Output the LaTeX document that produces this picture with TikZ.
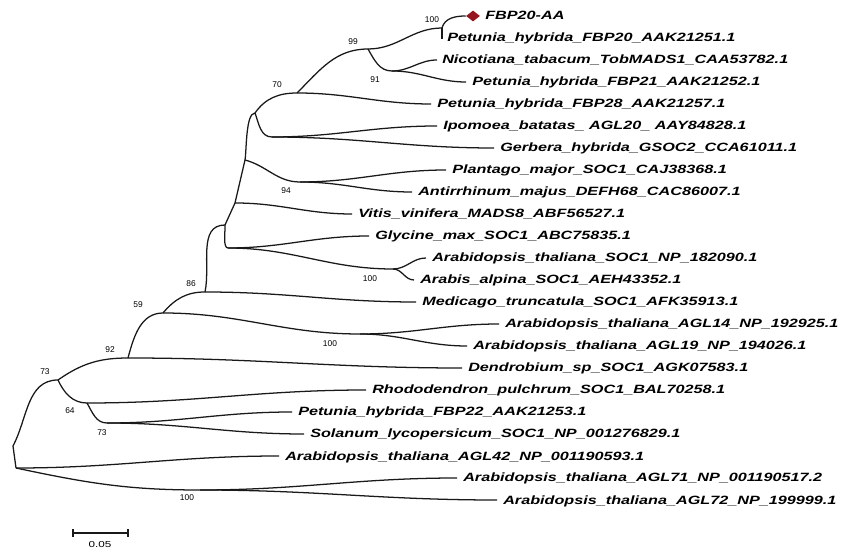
\documentclass[tikz,border=0pt]{standalone}
\usepackage{fontspec}
\setmainfont{Liberation Sans}
\newfontfamily\leaffont[FakeStretch=1.35]{Liberation Sans}
\usetikzlibrary{shapes.geometric}
\definecolor{dred}{RGB}{150,20,30}
\begin{document}
\begin{tikzpicture}[x=0.75pt,y=0.75pt,
  br/.style={line width=0.95pt, draw=black!90},
  hz/.style={out=0,in=180},
  leaf/.style={anchor=base west, inner sep=0pt, font=\leaffont\bfseries\itshape\fontsize{9}{10}\selectfont},
  boot/.style={inner sep=0pt, font=\fontsize{6.3}{7}\selectfont},
]
\useasboundingbox (0,0) rectangle (842,-548);
\fill[white] (0,0) rectangle (842,-548);

% internal nodes
\coordinate (Rb) at (16,-468);
\coordinate (Rt) at (13,-446);
\coordinate (N73a) at (58,-380);
\coordinate (N92) at (128,-358);
\coordinate (N59) at (163,-313);
\coordinate (N86) at (205,-292);
\coordinate (Na) at (225,-225);
\coordinate (Nb) at (235,-203);
\coordinate (Nc) at (245,-160);
\coordinate (Nd) at (255,-113);
\coordinate (N70) at (297,-93);
\coordinate (N99) at (368,-49);
\coordinate (N100a) at (442,-28);
\coordinate (N91) at (392,-71);
\coordinate (Nipo) at (272,-137);
\coordinate (N94) at (300,-182);
\coordinate (Ngly) at (228,-248);
\coordinate (N100b) at (393,-269);
\coordinate (N100c) at (360,-334);
\coordinate (N64) at (87,-403);
\coordinate (N73b) at (107,-423);
\coordinate (N100d) at (200,-490);

% leaf ends
\node[diamond, fill=dred, inner sep=0pt, minimum width=10.5pt, minimum height=8.25pt] (dia) at (473,-16) {};
\coordinate (e2) at (442,-39);
\coordinate (e3) at (437,-60);
\coordinate (e4) at (466,-82);
\coordinate (e5) at (431,-104);
\coordinate (e6) at (437,-126);
\coordinate (e7) at (494,-148);
\coordinate (e8) at (446,-170);
\coordinate (e9) at (412,-192);
\coordinate (e10) at (352,-214);
\coordinate (e11) at (369,-236);
\coordinate (e12) at (426,-258);
\coordinate (e13) at (414,-280);
\coordinate (e14) at (416,-302);
\coordinate (e15) at (499,-324);
\coordinate (e16) at (467,-346);
\coordinate (e17) at (462,-368);
\coordinate (e18) at (366,-390);
\coordinate (e19) at (292,-412);
\coordinate (e20) at (304,-434);
\coordinate (e21) at (279,-456);
\coordinate (e22) at (457,-478);
\coordinate (e23) at (497,-500);

% leaf labels
\node[leaf] (t1) at (485,-20) {FBP20-AA};
\node[leaf] (t2) at (447,-42) {Petunia\_hybrida\_FBP20\_AAK21251.1};
\node[leaf] (t3) at (442,-64) {Nicotiana\_tabacum\_TobMADS1\_CAA53782.1};
\node[leaf] (t4) at (472,-86) {Petunia\_hybrida\_FBP21\_AAK21252.1};
\node[leaf] (t5) at (437,-108) {Petunia\_hybrida\_FBP28\_AAK21257.1};
\node[leaf] (t6) at (443,-130) {Ipomoea\_batatas\_ AGL20\_ AAY84828.1};
\node[leaf] (t7) at (500,-152) {Gerbera\_hybrida\_GSOC2\_CCA61011.1};
\node[leaf] (t8) at (452,-174) {Plantago\_major\_SOC1\_CAJ38368.1};
\node[leaf] (t9) at (418,-196) {Antirrhinum\_majus\_DEFH68\_CAC86007.1};
\node[leaf] (t10) at (358,-218) {Vitis\_vinifera\_MADS8\_ABF56527.1};
\node[leaf] (t11) at (375,-240) {Glycine\_max\_SOC1\_ABC75835.1};
\node[leaf] (t12) at (432,-262) {Arabidopsis\_thaliana\_SOC1\_NP\_182090.1};
\node[leaf] (t13) at (420,-284) {Arabis\_alpina\_SOC1\_AEH43352.1};
\node[leaf] (t14) at (422,-306) {Medicago\_truncatula\_SOC1\_AFK35913.1};
\node[leaf] (t15) at (505,-328) {Arabidopsis\_thaliana\_AGL14\_NP\_192925.1};
\node[leaf] (t16) at (473,-350) {Arabidopsis\_thaliana\_AGL19\_NP\_194026.1};
\node[leaf] (t17) at (468,-372) {Dendrobium\_sp\_SOC1\_AGK07583.1};
\node[leaf] (t18) at (372,-394) {Rhododendron\_pulchrum\_SOC1\_BAL70258.1};
\node[leaf] (t19) at (298,-416) {Petunia\_hybrida\_FBP22\_AAK21253.1};
\node[leaf] (t20) at (310,-438) {Solanum\_lycopersicum\_SOC1\_NP\_001276829.1};
\node[leaf] (t21) at (285,-460) {Arabidopsis\_thaliana\_AGL42\_NP\_001190593.1};
\node[leaf] (t22) at (463,-482) {Arabidopsis\_thaliana\_AGL71\_NP\_001190517.2};
\node[leaf] (t23) at (503,-504) {Arabidopsis\_thaliana\_AGL72\_NP\_199999.1};

% bootstrap values
\node[boot] (b1) at (432,-20) {100};
\node[boot] (b2) at (353,-42) {99};
\node[boot] (b3) at (375,-80) {91};
\node[boot] (b4) at (277,-85) {70};
\node[boot] (b5) at (286,-191) {94};
\node[boot] (b6) at (370,-279) {100};
\node[boot] (b7) at (191,-284) {86};
\node[boot] (b8) at (138,-305) {59};
\node[boot] (b9) at (330,-344) {100};
\node[boot] (b10) at (110,-350) {92};
\node[boot] (b11) at (45,-372) {73};
\node[boot] (b12) at (70,-411) {64};
\node[boot] (b13) at (102,-433) {73};
\node[boot] (b14) at (187,-498) {100};

% branches
\draw[br] (Rb) -- (Rt);
\draw[br] (Rt) to[out=62,in=180] (N73a);
\draw[br] (Rb) to[hz] (e21);
\draw[br] (Rb) to[out=-12,in=180] (N100d);
\draw[br] (N100d) to[hz] (e22);
\draw[br] (N100d) to[hz] (e23);
\draw[br] (N73a) to[out=35,in=180] (N92);
\draw[br] (N73a) to[out=-65,in=180] (N64);
\draw[br] (N64) to[hz] (e18);
\draw[br] (N64) to[out=-60,in=180] (N73b);
\draw[br] (N73b) to[hz] (e19);
\draw[br] (N73b) to[hz] (e20);
\draw[br] (N92) to[out=75,in=180] (N59);
\draw[br] (N92) to[hz] (e17);
\draw[br] (N59) to[out=50,in=180] (N86);
\draw[br] (N59) to[hz] (N100c);
\draw[br] (N100c) to[hz] (e15);
\draw[br] (N100c) to[hz] (e16);
\draw[br] (N86) to[out=78,in=180] (Na);
\draw[br] (N86) to[hz] (e14);
\draw[br] (Na) to[out=-85,in=180,looseness=0.6] (Ngly);
\draw[br] (Ngly) to[hz] (e11);
\draw[br] (Ngly) to[hz] (N100b);
\draw[br] (N100b) to[hz] (e12);
\draw[br] (N100b) to[hz] (e13);
\draw[br] (Na) -- (Nb);
\draw[br] (Nb) to[hz] (e10);
\draw[br] (Nb) -- (Nc);
\draw[br] (Nc) to[out=-15,in=180] (N94);
\draw[br] (N94) to[hz] (e8);
\draw[br] (N94) to[hz] (e9);
\draw[br] (Nc) to[out=80,in=180,looseness=0.5] (Nd);
\draw[br] (Nd) to[out=55,in=180] (N70);
\draw[br] (Nd) to[out=-70,in=180] (Nipo);
\draw[br] (Nipo) to[hz] (e6);
\draw[br] (Nipo) to[hz] (e7);
\draw[br] (N70) to[out=45,in=180] (N99);
\draw[br] (N70) to[hz] (e5);
\draw[br] (N99) to[hz] (N100a);
\draw[br] (N99) to[out=-60,in=180] (N91);
\draw[br] (N91) to[hz] (e3);
\draw[br] (N91) to[hz] (e4);
\draw[br] (N100a) to[out=75,in=180] (dia.west);
\draw[br] (N100a) -- (e2);

% scale bar
\coordinate (s1) at (73,-533);
\coordinate (s2) at (128,-533);
\draw[br] (s1) -- (s2);
\draw[br] (s1) ++(0,4) -- ++(0,-8);
\draw[br] (s2) ++(0,4) -- ++(0,-8);
\node[boot, font=\leaffont\fontsize{6.5}{7}\selectfont] (sl) at (100,-545) {0.05};
\end{tikzpicture}
\end{document}
